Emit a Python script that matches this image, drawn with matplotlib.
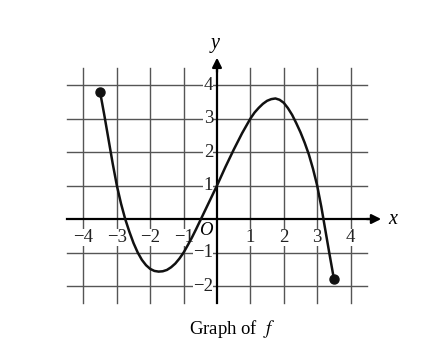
import matplotlib.pyplot as plt

fx = [-3.5, -3.375, -3.25, -3.125, -3.0, -2.875, -2.75, -2.625, -2.5, -2.375, -2.25,
      -2.125, -2.0, -1.875, -1.75, -1.625, -1.5, -1.375, -1.25, -1.125, -1.0, -0.875,
      -0.75, -0.625, -0.5, -0.25, 0.0, 0.25, 0.5, 0.75, 1.0, 1.125, 1.25, 1.375, 1.5,
      1.625, 1.75, 1.875, 2.0, 2.125, 2.25, 2.375, 2.5, 2.625, 2.75, 2.875, 3.0,
      3.125, 3.25, 3.375, 3.5]
fy = [3.78, 3.1, 2.38, 1.66, 1.0, 0.46, 0.0, -0.38, -0.72, -1.0, -1.22,
      -1.38, -1.49, -1.55, -1.57, -1.56, -1.52, -1.44, -1.33, -1.18, -1.0, -0.78,
      -0.55, -0.3, -0.04, 0.48, 1.0, 1.55, 2.07, 2.56, 3.0, 3.18, 3.32, 3.44, 3.53,
      3.58, 3.6, 3.56, 3.47, 3.31, 3.11, 2.86, 2.59, 2.28, 1.93, 1.5, 1.0,
      0.36, -0.36, -1.08, -1.78]
xticks = [-4, -3, -2, -1, 1, 2, 3, 4]
yticks = [-2, -1, 1, 2, 3, 4]

plt.rcParams['font.family'] = ['Liberation Serif', 'DejaVu Serif']
plt.rcParams['mathtext.fontset'] = 'stix'
fig = plt.figure(figsize=(4.22, 3.56), dpi=100)
ax = fig.add_axes([0, 0, 1, 1])
ax.set_xlim(-6.5, 6.14)
ax.set_ylim(-4.09, 6.54)
ax.axis('off')

gc = '#555555'
for x in xticks:
    ax.plot([x, x], [-2.5, 4.5], color=gc, lw=1.0, zorder=1)
for y in yticks:
    ax.plot([-4.5, 4.5], [y, y], color=gc, lw=1.0, zorder=1)

# axes with arrows
ax.plot([-4.5, 4.7], [0, 0], color='black', lw=1.6, zorder=2)
ax.plot([0, 0], [-2.5, 4.5], color='black', lw=1.6, zorder=2)
ax.annotate('', xy=(5.0, 0), xytext=(4.4, 0),
            arrowprops=dict(arrowstyle='-|>', color='black', lw=1.6, mutation_scale=14))
ax.annotate('', xy=(0, 4.9), xytext=(0, 4.3),
            arrowprops=dict(arrowstyle='-|>', color='black', lw=1.6, mutation_scale=14))

fs = 13.5
box = dict(facecolor='white', edgecolor='none', pad=0.3)
for x in xticks:
    ax.text(x, -0.55, '\u2212%d' % -x if x < 0 else str(x), ha='center', va='center',
            fontsize=fs, color='#222222', bbox=box, zorder=3)
for y in yticks:
    ax.text(-0.12, y, '\u2212%d' % -y if y < 0 else str(y), ha='right', va='center',
            fontsize=fs, color='#222222', bbox=box, zorder=3)
ax.text(-0.33, -0.35, 'O', ha='center', va='center', fontsize=fs, style='italic', zorder=3)
ax.text(5.25, 0, 'x', ha='center', va='center', fontsize=fs + 1, style='italic')
ax.text(-0.05, 5.25, 'y', ha='center', va='center', fontsize=fs + 1, style='italic')

ax.plot(fx, fy, color='#111111', lw=1.8, zorder=4, solid_capstyle='round',
        solid_joinstyle='round')
ax.plot([fx[0], fx[-1]], [fy[0], fy[-1]], 'o', color='#111111', ms=6.5, zorder=5)

ax.text(0.45, -3.27, 'Graph of  $f$', ha='center', va='center', fontsize=fs)

fig.savefig('out.png', dpi=100)
